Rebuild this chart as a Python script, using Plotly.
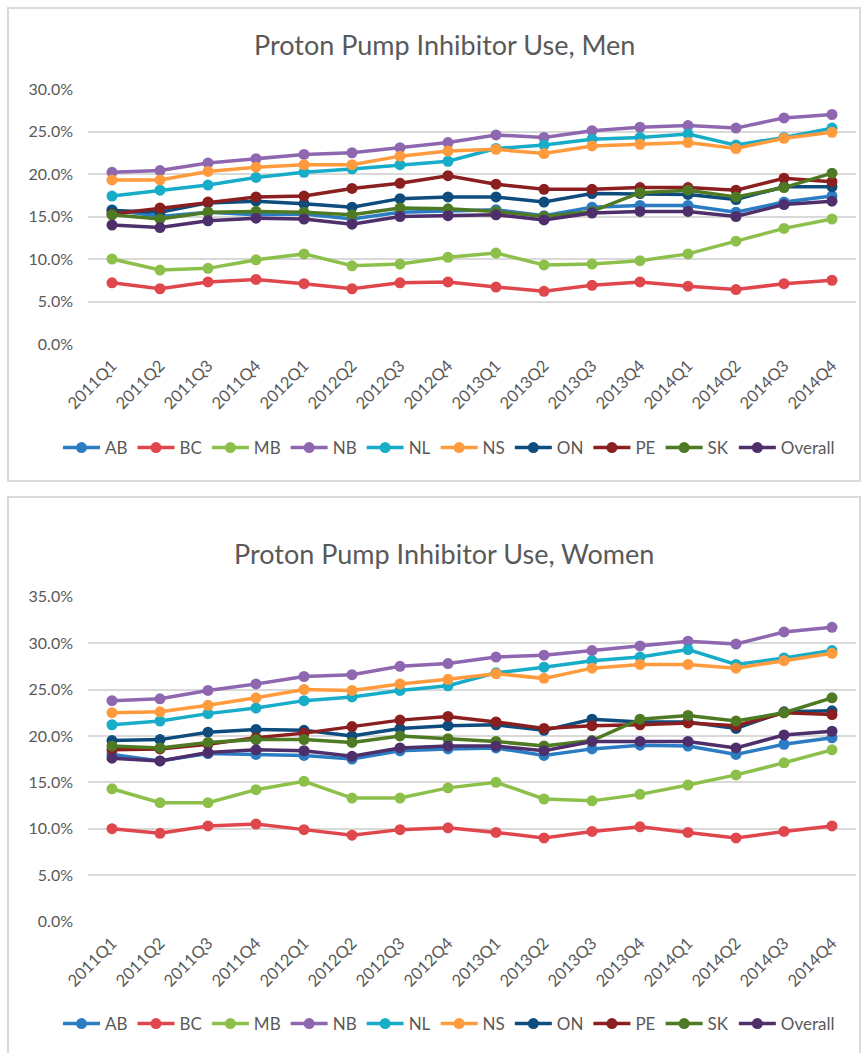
import plotly.graph_objects as go

W, H = 868, 1053

quarters = ["2011Q1", "2011Q2", "2011Q3", "2011Q4", "2012Q1", "2012Q2", "2012Q3", "2012Q4",
            "2013Q1", "2013Q2", "2013Q3", "2013Q4", "2014Q1", "2014Q2", "2014Q3", "2014Q4"]

series_names = ["AB", "BC", "MB", "NB", "NL", "NS", "ON", "PE", "SK", "Overall"]
colors = ["#2C7CC3", "#E0474C", "#8DC04B", "#8E67B0", "#17ADC8", "#FF9B3D",
          "#0D4C7D", "#8B1E1E", "#4E7A23", "#4F2F6B"]

# Men (percent)
men_AB = [15.8, 15.0, 15.5, 15.2, 15.3, 14.7, 15.5, 15.6, 15.8, 15.1, 16.1, 16.3, 16.3, 15.5, 16.7, 17.4]
men_BC = [7.2, 6.5, 7.3, 7.6, 7.1, 6.5, 7.2, 7.3, 6.7, 6.2, 6.9, 7.3, 6.8, 6.4, 7.1, 7.5]
men_MB = [10.0, 8.7, 8.9, 9.9, 10.6, 9.2, 9.4, 10.2, 10.7, 9.3, 9.4, 9.8, 10.6, 12.1, 13.6, 14.7]
men_NB = [20.2, 20.4, 21.3, 21.8, 22.3, 22.5, 23.1, 23.7, 24.6, 24.3, 25.1, 25.5, 25.7, 25.4, 26.6, 27.0]
men_NL = [17.4, 18.1, 18.7, 19.6, 20.2, 20.6, 21.1, 21.5, 23.0, 23.4, 24.1, 24.3, 24.7, 23.4, 24.3, 25.4]
men_NS = [19.3, 19.3, 20.3, 20.8, 21.1, 21.1, 22.1, 22.7, 22.9, 22.4, 23.3, 23.5, 23.7, 23.0, 24.2, 24.9]
men_ON = [15.7, 15.5, 16.6, 16.8, 16.5, 16.1, 17.1, 17.3, 17.3, 16.7, 17.7, 17.7, 17.6, 17.0, 18.5, 18.5]
men_PE = [15.3, 16.0, 16.7, 17.3, 17.4, 18.3, 18.9, 19.8, 18.8, 18.2, 18.2, 18.4, 18.4, 18.1, 19.5, 19.1]
men_SK = [15.2, 14.7, 15.5, 15.6, 15.5, 15.2, 16.0, 15.9, 15.6, 15.0, 15.6, 17.8, 18.1, 17.3, 18.4, 20.1]
men_Overall = [14.0, 13.7, 14.5, 14.8, 14.7, 14.1, 15.0, 15.1, 15.2, 14.6, 15.4, 15.6, 15.6, 15.0, 16.4, 16.8]

# Women (percent)
women_AB = [18.0, 17.3, 18.1, 18.0, 17.9, 17.5, 18.4, 18.6, 18.7, 17.9, 18.6, 19.0, 18.9, 18.0, 19.1, 19.8]
women_BC = [10.0, 9.5, 10.3, 10.5, 9.9, 9.3, 9.9, 10.1, 9.6, 9.0, 9.7, 10.2, 9.6, 9.0, 9.7, 10.3]
women_MB = [14.3, 12.8, 12.8, 14.2, 15.1, 13.3, 13.3, 14.4, 15.0, 13.2, 13.0, 13.7, 14.7, 15.8, 17.1, 18.5]
women_NB = [23.8, 24.0, 24.9, 25.6, 26.4, 26.6, 27.5, 27.8, 28.5, 28.7, 29.2, 29.7, 30.2, 29.9, 31.2, 31.7]
women_NL = [21.2, 21.6, 22.4, 23.0, 23.8, 24.2, 24.9, 25.4, 26.8, 27.4, 28.1, 28.5, 29.3, 27.7, 28.4, 29.2]
women_NS = [22.5, 22.6, 23.3, 24.1, 25.0, 24.9, 25.6, 26.1, 26.7, 26.2, 27.3, 27.7, 27.7, 27.3, 28.1, 28.9]
women_ON = [19.5, 19.6, 20.4, 20.7, 20.6, 20.0, 20.8, 21.1, 21.2, 20.6, 21.8, 21.5, 21.5, 20.8, 22.6, 22.7]
women_PE = [18.5, 18.6, 19.1, 19.8, 20.3, 21.0, 21.7, 22.1, 21.5, 20.8, 21.1, 21.2, 21.4, 21.1, 22.5, 22.3]
women_SK = [18.9, 18.7, 19.3, 19.6, 19.6, 19.3, 20.0, 19.7, 19.4, 18.9, 19.5, 21.8, 22.2, 21.6, 22.5, 24.1]
women_Overall = [17.6, 17.3, 18.2, 18.5, 18.4, 17.8, 18.7, 18.9, 18.9, 18.4, 19.4, 19.4, 19.4, 18.7, 20.1, 20.5]

men = [men_AB, men_BC, men_MB, men_NB, men_NL, men_NS, men_ON, men_PE, men_SK, men_Overall]
women = [women_AB, women_BC, women_MB, women_NB, women_NL, women_NS, women_ON, women_PE, women_SK, women_Overall]

FONT = "Lato"
TXT = "#595959"
GRID = "#D9D9D9"

def py(px):
    return 1 - px / H

def pxx(px):
    return px / W

fig = go.Figure()

for name, col, vals in zip(series_names, colors, men):
    fig.add_trace(go.Scatter(x=quarters, y=vals, name=name, mode="lines+markers",
                             line=dict(color=col, width=3.5), marker=dict(color=col, size=11),
                             xaxis="x", yaxis="y", legend="legend", cliponaxis=False))
for name, col, vals in zip(series_names, colors, women):
    fig.add_trace(go.Scatter(x=quarters, y=vals, name=name, mode="lines+markers",
                             line=dict(color=col, width=3.5), marker=dict(color=col, size=11),
                             xaxis="x2", yaxis="y2", legend="legend2", cliponaxis=False))

cat_range = [-0.5, len(quarters) - 0.5]

axis_common = dict(showline=False, ticks="", automargin=False)
xcommon = dict(type="category", tickangle=-45, showgrid=False, zeroline=False,
               categoryorder="array", categoryarray=quarters, range=cat_range,
               ticklabelstandoff=8, tickfont=dict(family=FONT, size=16.5, color=TXT), **axis_common)
ycommon = dict(showgrid=True, gridcolor=GRID, gridwidth=1.5, zeroline=False,
               ticksuffix="%", tickformat=".1f", ticklabelstandoff=14,
               tickfont=dict(family=FONT, size=16, color=TXT), **axis_common)

legend_common = dict(orientation="h", x=pxx(449), xanchor="center", yanchor="middle",
                     font=dict(family=FONT, size=17, color=TXT), itemwidth=37,
                     bgcolor="rgba(0,0,0,0)", tracegroupgap=0)

fig.update_layout(
    template="none",
    width=W, height=H,
    autosize=False,
    margin=dict(l=0, r=0, t=0, b=0, pad=0, autoexpand=False),
    paper_bgcolor="white", plot_bgcolor="white",
    font=dict(family=FONT, color=TXT),
    xaxis=dict(domain=[pxx(88), pxx(856)], anchor="y", **xcommon),
    yaxis=dict(domain=[py(344), py(89)], anchor="x", range=[0, 30], dtick=5, **ycommon),
    xaxis2=dict(domain=[pxx(88), pxx(856)], anchor="y2", **xcommon),
    yaxis2=dict(domain=[py(921.5), py(596.7)], anchor="x2", range=[0, 35], dtick=5, **ycommon),
    legend=dict(y=py(448), **legend_common),
    legend2=dict(y=py(1024), **legend_common),
    shapes=[
        dict(type="rect", xref="paper", yref="paper", x0=pxx(8), x1=pxx(860), y0=py(481), y1=py(8),
             line=dict(color=GRID, width=2), layer="below"),
        dict(type="rect", xref="paper", yref="paper", x0=pxx(8), x1=pxx(860), y0=py(1070), y1=py(497),
             line=dict(color=GRID, width=2), layer="below"),
    ],
    annotations=[
        dict(text="Proton Pump Inhibitor Use, Men", xref="paper", yref="paper",
             x=pxx(444), y=py(45), xanchor="center", yanchor="middle", showarrow=False,
             font=dict(family=FONT, size=27, color=TXT)),
        dict(text="Proton Pump Inhibitor Use, Women", xref="paper", yref="paper",
             x=pxx(444), y=py(553), xanchor="center", yanchor="middle", showarrow=False,
             font=dict(family=FONT, size=27, color=TXT)),
    ],
)

fig.write_html("out.html", config={"displayModeBar": False})

# remove the browser's default page margin so the figure fills the window exactly
with open("out.html", "r", encoding="utf-8") as f:
    html = f.read()
html = html.replace("<head>", "<head><style>html,body{margin:0;padding:0;overflow:hidden;}</style>", 1)
with open("out.html", "w", encoding="utf-8") as f:
    f.write(html)
